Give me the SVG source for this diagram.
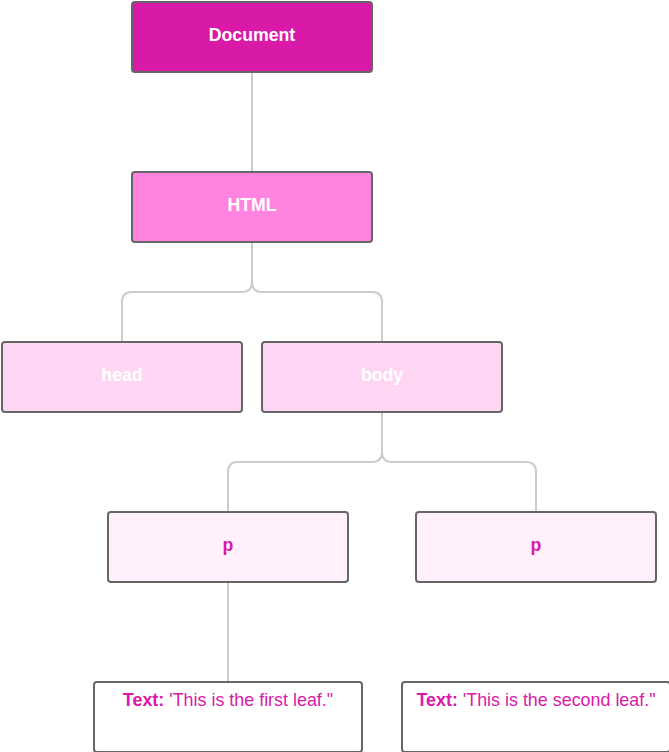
<svg xmlns="http://www.w3.org/2000/svg" width="669" height="752" viewBox="0 0 669 752">
<style>
.box{stroke:#666666;stroke-width:2}
.lbl{font-family:"Liberation Sans",Arial,sans-serif;font-weight:bold;font-size:17.7px;text-anchor:middle}
.w{fill:#ffffff}
.m{fill:#d91aa9}
.leaf{font-family:"Liberation Sans",Arial,sans-serif;font-size:17.9px;text-anchor:middle;fill:#d91aa9}
.conn{fill:none;stroke:#cccccc;stroke-width:2}
</style>
<rect width="669" height="752" fill="#ffffff"/>
<g id="connectors">
<path class="conn" d="M252 72 V172"/>
<path class="conn" d="M252 242 V282 Q252 292 242 292 H132 Q122 292 122 302 V342"/>
<path class="conn" d="M252 242 V282 Q252 292 262 292 H372 Q382 292 382 302 V342"/>
<path class="conn" d="M382 412 V452 Q382 462 372 462 H238 Q228 462 228 472 V512"/>
<path class="conn" d="M382 412 V452 Q382 462 392 462 H526 Q536 462 536 472 V512"/>
<path class="conn" d="M228 582 V682"/>
</g>
<g id="document">
<rect class="box" x="132" y="2" width="240" height="70" rx="3" fill="#d91aa9"/>
<text class="lbl w" x="252" y="41">Document</text>
</g>
<g id="html">
<rect class="box" x="132" y="172" width="240" height="70" rx="3" fill="#ff84df"/>
<text class="lbl w" x="252" y="211">HTML</text>
</g>
<g id="head">
<rect class="box" x="2" y="342" width="240" height="70" rx="3" fill="#ffd6f4"/>
<text class="lbl w" x="122" y="381">head</text>
</g>
<g id="body">
<rect class="box" x="262" y="342" width="240" height="70" rx="3" fill="#ffd6f4"/>
<text class="lbl w" x="382" y="381">body</text>
</g>
<g id="p1">
<rect class="box" x="108" y="512" width="240" height="70" rx="3" fill="#fff0fb"/>
<text class="lbl m" x="228" y="551">p</text>
</g>
<g id="p2">
<rect class="box" x="416" y="512" width="240" height="70" rx="3" fill="#fff0fb"/>
<text class="lbl m" x="536" y="551">p</text>
</g>
<g id="text1">
<rect class="box" x="94" y="682" width="268" height="70" rx="3" fill="#ffffff"/>
<text class="leaf" x="228" y="706"><tspan font-weight="bold">Text:</tspan> 'This is the first leaf."</text>
</g>
<g id="text2">
<rect class="box" x="402" y="682" width="268" height="70" rx="3" fill="#ffffff"/>
<text class="leaf" x="536" y="706"><tspan font-weight="bold">Text:</tspan> 'This is the second leaf."</text>
</g>
</svg>
